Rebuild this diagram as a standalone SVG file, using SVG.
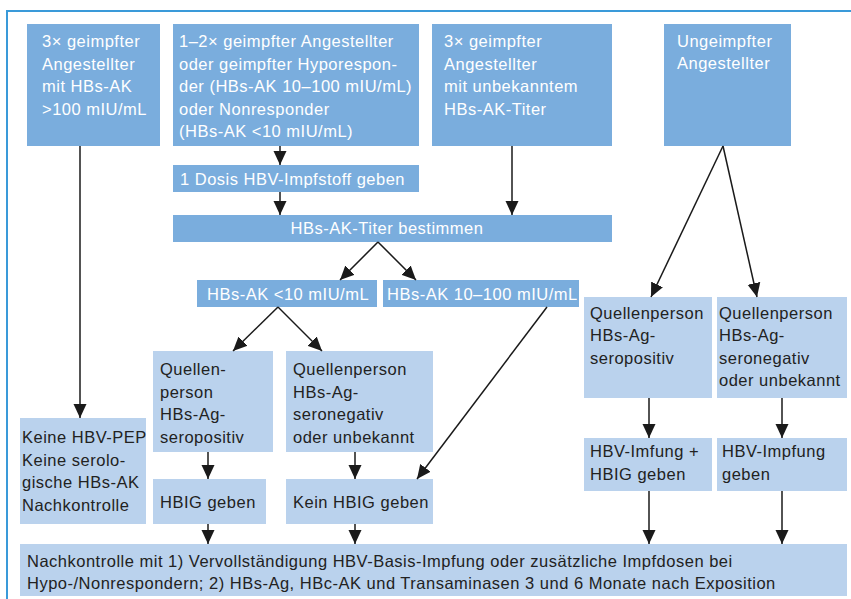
<svg xmlns="http://www.w3.org/2000/svg" width="851" height="599" viewBox="0 0 851 599">
<defs>
<marker id="ah" markerUnits="userSpaceOnUse" markerWidth="14" markerHeight="14" viewBox="0 0 14 14" refX="14" refY="7" orient="auto">
<path d="M0,0.5 L14,7 L0,13.5 Z" fill="#1a1a1a"/>
</marker>
<style>
.d{fill:#7aaddd}
.l{fill:#bad2ed}
text{font-family:"Liberation Sans",Arial,sans-serif;font-size:16.5px;letter-spacing:0.5px}
.w{fill:#ffffff}
.k{fill:#222222}
.c line{stroke:#1a1a1a;stroke-width:1.5;marker-end:url(#ah)}
</style>
</defs>
<rect width="851" height="599" fill="#ffffff"/>
<path d="M7,599 V11 H851" fill="none" stroke="#3a9ad9" stroke-width="2"/>

<g id="n1"><rect class="d" x="27" y="24" width="133" height="122"/>
<text class="w" x="42"><tspan x="42" y="47">3× geimpfter</tspan><tspan x="42" y="70">Angestellter</tspan><tspan x="42" y="92">mit HBs-AK</tspan><tspan x="42" y="115">&gt;100 mIU/mL</tspan></text></g>

<g id="n2"><rect class="d" x="173" y="24" width="246" height="122"/>
<text class="w"><tspan x="179" y="47">1–2× geimpfter Angestellter</tspan><tspan x="179" y="70">oder geimpfter Hyporespon-</tspan><tspan x="179" y="92">der (HBs-AK 10–100 mIU/mL)</tspan><tspan x="179" y="115">oder Nonresponder</tspan><tspan x="179" y="137">(HBs-AK &lt;10 mIU/mL)</tspan></text></g>

<g id="n3"><rect class="d" x="432" y="24" width="180" height="122"/>
<text class="w"><tspan x="444" y="47">3× geimpfter</tspan><tspan x="444" y="70">Angestellter</tspan><tspan x="444" y="92">mit unbekanntem</tspan><tspan x="444" y="115">HBs-AK-Titer</tspan></text></g>

<g id="n4"><rect class="d" x="664" y="24" width="127" height="122"/>
<text class="w"><tspan x="677" y="47">Ungeimpfter</tspan><tspan x="677" y="69">Angestellter</tspan></text></g>

<g id="n5"><rect class="d" x="173" y="165" width="246" height="27"/>
<text class="w" x="180" y="185">1 Dosis HBV-Impfstoff geben</text></g>

<g id="n6"><rect class="d" x="173" y="215" width="439" height="27"/>
<text class="w" x="387" y="234" text-anchor="middle">HBs-AK-Titer bestimmen</text></g>

<g id="n7"><rect class="d" x="197" y="280" width="180" height="27"/>
<text class="w" x="207" y="300">HBs-AK &lt;10 mIU/mL</text></g>

<g id="n8"><rect class="d" x="383" y="280" width="196" height="27"/>
<text class="w" x="387" y="300">HBs-AK 10–100 mIU/mL</text></g>

<g id="n9"><rect class="l" x="153" y="351" width="120" height="101"/>
<text class="k"><tspan x="160" y="375">Quellen-</tspan><tspan x="160" y="398">person</tspan><tspan x="160" y="420">HBs-Ag-</tspan><tspan x="160" y="443">seropositiv</tspan></text></g>

<g id="n10"><rect class="l" x="286" y="351" width="147" height="101"/>
<text class="k"><tspan x="293" y="375">Quellenperson</tspan><tspan x="293" y="398">HBs-Ag-</tspan><tspan x="293" y="420">seronegativ</tspan><tspan x="293" y="443">oder unbekannt</tspan></text></g>

<g id="n11"><rect class="l" x="584" y="297" width="128" height="101"/>
<text class="k"><tspan x="590" y="319">Quellenperson</tspan><tspan x="590" y="341">HBs-Ag-</tspan><tspan x="590" y="364">seropositiv</tspan></text></g>

<g id="n12"><rect class="l" x="717" y="297" width="130" height="101"/>
<text class="k"><tspan x="719" y="319">Quellenperson</tspan><tspan x="719" y="341">HBs-Ag-</tspan><tspan x="719" y="364">seronegativ</tspan><tspan x="719" y="386">oder unbekannt</tspan></text></g>

<g id="n13"><rect class="l" x="20" y="418" width="126" height="106"/>
<text class="k"><tspan x="22" y="443">Keine HBV-PEP</tspan><tspan x="22" y="466">Keine serolo-</tspan><tspan x="22" y="488">gische HBs-AK</tspan><tspan x="22" y="511">Nachkontrolle</tspan></text></g>

<g id="n14"><rect class="l" x="153" y="479" width="113" height="45"/>
<text class="k" x="160" y="508">HBIG geben</text></g>

<g id="n15"><rect class="l" x="286" y="479" width="147" height="45"/>
<text class="k" x="293" y="508">Kein HBIG geben</text></g>

<g id="n16"><rect class="l" x="584" y="438" width="128" height="53"/>
<text class="k"><tspan x="590" y="457">HBV-Imfung +</tspan><tspan x="590" y="480">HBIG geben</tspan></text></g>

<g id="n17"><rect class="l" x="717" y="438" width="130" height="53"/>
<text class="k"><tspan x="722" y="457">HBV-Impfung</tspan><tspan x="722" y="480">geben</tspan></text></g>

<g id="n18"><rect class="l" x="20" y="544" width="827" height="52"/>
<text class="k"><tspan x="27" y="567">Nachkontrolle mit 1) Vervollständigung HBV-Basis-Impfung oder zusätzliche Impfdosen bei</tspan><tspan x="27" y="589">Hypo-/Nonrespondern; 2) HBs-Ag, HBc-AK und Transaminasen 3 und 6 Monate nach Exposition</tspan></text></g>

<g id="connectors" class="c">
<line x1="80" y1="146" x2="80" y2="418"/>
<line x1="280" y1="146" x2="280" y2="165"/>
<line x1="280" y1="192" x2="280" y2="215"/>
<line x1="512" y1="146" x2="512" y2="215"/>
<line x1="378" y1="242" x2="340" y2="280"/>
<line x1="378" y1="242" x2="416" y2="280"/>
<line x1="278" y1="307" x2="233" y2="351"/>
<line x1="278" y1="307" x2="322" y2="351"/>
<line x1="547" y1="307" x2="417" y2="479"/>
<line x1="723" y1="146" x2="651" y2="297"/>
<line x1="723" y1="146" x2="757" y2="297"/>
<line x1="208" y1="452" x2="208" y2="479"/>
<line x1="355" y1="452" x2="355" y2="479"/>
<line x1="208" y1="524" x2="208" y2="544"/>
<line x1="355" y1="524" x2="355" y2="544"/>
<line x1="649" y1="398" x2="649" y2="438"/>
<line x1="782" y1="398" x2="782" y2="438"/>
<line x1="649" y1="491" x2="649" y2="544"/>
<line x1="782" y1="491" x2="782" y2="544"/>
</g>
</svg>
